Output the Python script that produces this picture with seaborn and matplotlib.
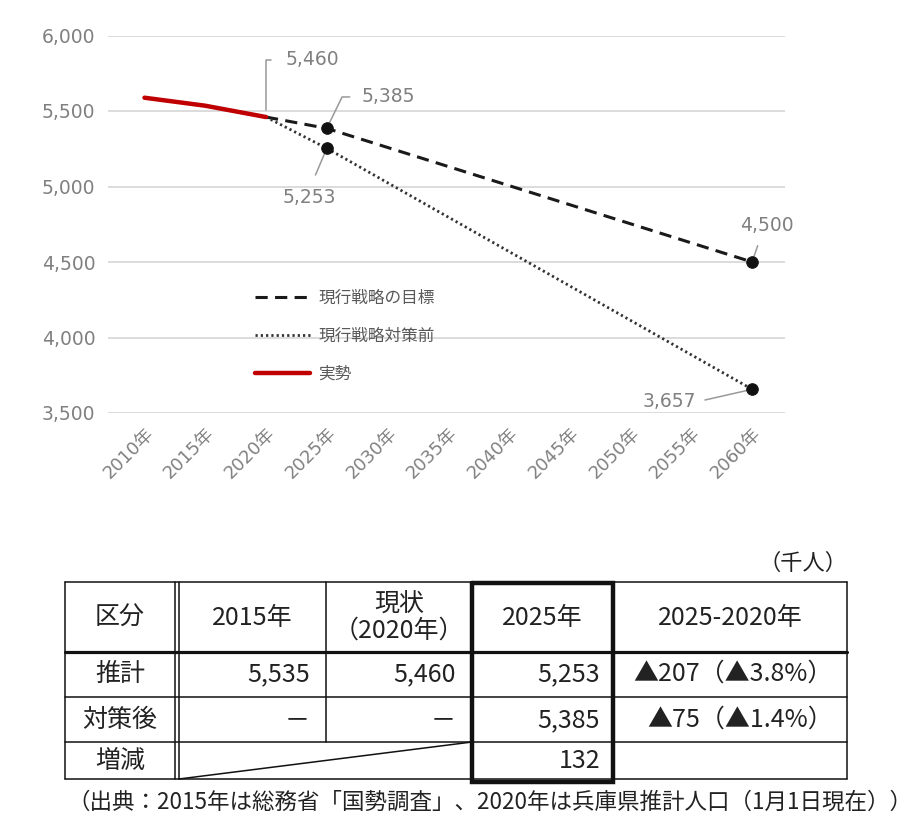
import matplotlib
matplotlib.use('Agg')
import matplotlib.pyplot as plt
import pandas as pd
import seaborn as sns

# 兵庫県の人口推移（千人）
years_actual = [2010, 2015, 2020]
actual = [5588, 5535, 5460]
years_proj = [2020, 2025, 2060]
target = [5460, 5385, 4500]      # 現行戦略の目標
before = [5460, 5253, 3657]      # 現行戦略対策前
tick_years = list(range(2010, 2061, 5))
y_ticks = [3500, 4000, 4500, 5000, 5500, 6000]

# 表
table_header = ['区分', '2015年', '現状\n（2020年）', '2025年', '2025-2020年']
row_names = ['推計', '対策後', '増減']
col_2015 = ['5,535', '－', '']
col_2020 = ['5,460', '－', '']
col_2025 = ['5,253', '5,385', '132']
col_diff = ['▲207（▲3.8%）', '▲75（▲1.4%）', '']
unit_note = '（千人）'
source_note = '（出典：2015年は総務省「国勢調査」、2020年は兵庫県推計人口（1月1日現在））'

sns.set_theme(style='white')
plt.rcParams['font.family'] = ['DejaVu Sans', 'Noto Sans CJK JP']
plt.rcParams['axes.unicode_minus'] = False
jp = ['Noto Sans CJK JP', 'DejaVu Sans']

W, H = 922, 818
fig = plt.figure(figsize=(W / 100, H / 100), dpi=100)
fig.patch.set_facecolor('white')

# --- グラフ部分 ---
ax = fig.add_axes([108 / W, 1 - 413 / H, (785 - 108) / W, (413 - 35.5) / H])

df_t = pd.DataFrame({'year': years_proj, 'value': target})
df_b = pd.DataFrame({'year': years_proj, 'value': before})
df_a = pd.DataFrame({'year': years_actual, 'value': actual})

sns.lineplot(data=df_t, x='year', y='value', ax=ax, color='#1a1a1a', lw=2.2,
             linestyle=(0, (4, 2.4)), label='現行戦略の目標')
sns.lineplot(data=df_b, x='year', y='value', ax=ax, color='#333333', lw=2.0,
             linestyle=(0, (0.8, 1.1)), label='現行戦略対策前')
sns.lineplot(data=df_a, x='year', y='value', ax=ax, color='#c00000', lw=3.2,
             label='実勢')

pts = pd.concat([df_t[df_t['year'] > 2020], df_b[df_b['year'] > 2020]])
sns.scatterplot(data=pts, x='year', y='value', ax=ax, color='#111111', s=70,
                edgecolor='#111111', zorder=5, legend=False)

ax.set_xlim(2007, 2062.7)
ax.set_ylim(3500, 6000)
ax.set_yticks(y_ticks)
ax.set_yticklabels([f'{v:,}' for v in y_ticks])
ax.set_xticks(tick_years)
ax.set_xticklabels([f'{y}年' for y in tick_years], rotation=45, ha='right',
                   rotation_mode='anchor')
ax.tick_params(axis='both', length=0, labelcolor='#808080')
ax.tick_params(axis='y', pad=9, labelsize=13.5)
ax.tick_params(axis='x', pad=8, labelsize=13)
ax.yaxis.grid(True, color='#d9d9d9', lw=1.3)
ax.xaxis.grid(False)
for s in ax.spines.values():
    s.set_visible(False)
ax.set_xlabel('')
ax.set_ylabel('')

gray = '#999999'
tcol = '#808080'


def note(v, x, tx, ty, ha, va, relpos, cs='arc3', sa=4, sb=4):
    ax.annotate(f'{v:,}', xy=(x, v), xytext=(tx, ty), ha=ha, va=va,
                fontsize=13.5, color=tcol, annotation_clip=False,
                arrowprops=dict(arrowstyle='-', color=gray, lw=1.1,
                                shrinkA=sa, shrinkB=sb, relpos=relpos,
                                connectionstyle=cs))


note(actual[2], years_actual[2], 2021.6, 5838, 'left', 'center', (0, 0.5),
     'angle,angleA=0,angleB=90,rad=0', sa=8, sb=5)
note(target[1], years_proj[1], 2027.9, 5593, 'left', 'center', (0, 0.5),
     'angle,angleA=0,angleB=64,rad=0', sa=6.5, sb=4)
note(before[1], years_proj[1], 2023.6, 4924, 'center', 'center', (0.5, 1),
     sa=8, sb=4)
note(target[2], years_proj[2], 2061.2, 4745, 'center', 'center', (0.4, 0),
     sa=6, sb=4)
note(before[2], years_proj[2], 2053.2, 3573, 'center', 'center', (1, 0.5),
     sa=4, sb=4)

handles, labels = ax.get_legend_handles_labels()
leg = ax.legend(handles[:3], labels[:3], loc='upper left',
                bbox_to_anchor=((255 - 108) / (785 - 108), (413 - 290) / (413 - 35.5)),
                frameon=False, handlelength=3.3, handletextpad=0.5,
                labelspacing=1.25, borderpad=0, borderaxespad=0,
                prop={'family': jp, 'size': 12})
for t in leg.get_texts():
    t.set_color('#595959')

# --- 表部分 ---
tab = fig.add_axes([0, 0, 1, 1])
tab.set_xlim(0, W)
tab.set_ylim(H, 0)
tab.axis('off')

lc = '#111111'
xl, xr = 65, 847
ys = [582, 652, 697, 742, 779]
for y in ys:
    tab.plot([xl, xr], [y, y], color=lc, lw=2.3 if y == 652 else 1.1)
for x in [xl, 175, 179, xr]:
    tab.plot([x, x], [582, 779], color=lc, lw=1.1)
tab.plot([326, 326], [582, 742], color=lc, lw=1.1)
tab.plot([179, 472], [779, 742], color=lc, lw=1.1)
# 2025年の太枠
tab.plot([472, 613, 613, 472, 472], [583, 583, 782, 782, 583], color=lc, lw=3.2,
         solid_joinstyle='miter')

tfs = 18
tc = '#222222'
hx = [120, 252, 399, 542, 730]
for x, t in zip(hx, table_header):
    tab.text(x, 618, t, ha='center', va='center', fontsize=tfs, color=tc,
             family=jp, linespacing=1.0)

ry = [674, 720, 761]
for i, y in enumerate(ry):
    tab.text(120, y, row_names[i], ha='center', va='center', fontsize=tfs,
             color=tc, family=jp)
    tab.text(310, y, col_2015[i], ha='right', va='center', fontsize=tfs,
             color=tc, family=jp)
    tab.text(456, y, col_2020[i], ha='right', va='center', fontsize=tfs,
             color=tc, family=jp)
    tab.text(600, y, col_2025[i], ha='right', va='center', fontsize=tfs,
             color=tc, family=jp)
    tab.text(833, y, col_diff[i], ha='right', va='center', fontsize=tfs,
             color=tc, family=jp)

tab.text(847, 563, unit_note, ha='right', va='center', fontsize=16,
         color=tc, family=jp)
tab.text(490, 802, source_note, ha='center', va='center', fontsize=16.2,
         color=tc, family=jp)

fig.savefig('out.png', dpi=100, facecolor='white')
